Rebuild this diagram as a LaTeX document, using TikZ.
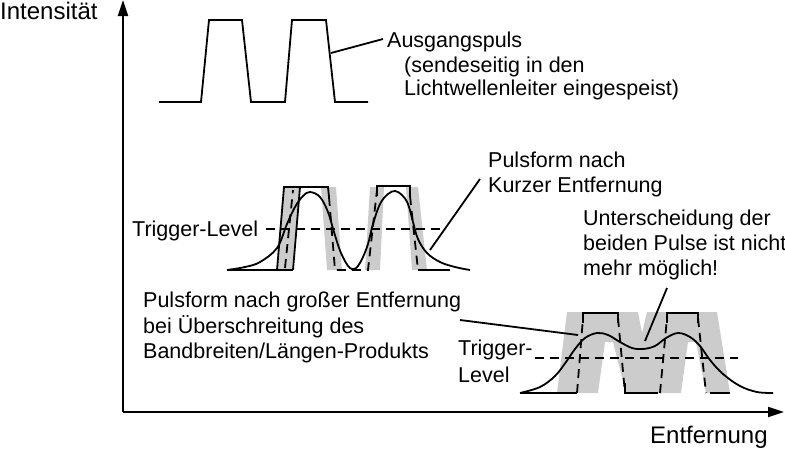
\documentclass[tikz,border=0pt]{standalone}
\usepackage{fontspec}
\setmainfont{Liberation Sans}
\usetikzlibrary{arrows.meta}
\definecolor{band}{gray}{0.8}
\tikzset{
  lbl/.style={inner sep=0pt,anchor=base west,font=\fontsize{21.5}{25}\selectfont},
  axlbl/.style={inner sep=0pt,anchor=base west,font=\fontsize{24}{28}\selectfont},
  ln/.style={line width=1.8pt,line join=miter},
  dsh/.style={line width=1.8pt,dash pattern=on 9pt off 6pt},
  axis/.style={line width=2.2pt,-{Triangle[length=16pt,width=10pt]}},
  crv/.style={line width=1.8pt,smooth,tension=0.6},
}
\begin{document}
\begin{tikzpicture}[x=1pt,y=-1pt]
\useasboundingbox (0,0) rectangle (785,448);

% axes
\coordinate (O) at (123,412);
\coordinate (ytip) at (123,0);
\coordinate (xtip) at (784,412);
\draw[axis] (O) -- (ytip);
\draw[axis] (O) -- (xtip);
\node[axlbl] (ylab) at (0,19) {Intensität};
\node[axlbl] (xlab) at (650,443) {Entfernung};

% ---------- top: original pulse
\draw[ln] (159,102) -- (201,102) -- (209,20) -- (242,20) -- (251,102) -- (285,102)
          -- (292,20) -- (326,20) -- (335,102) -- (368,102);
\node[lbl] (aus1) at (387,47) {Ausgangspuls};
\node[lbl] (aus2) at (404,72) {(sendeseitig in den};
\node[lbl] (aus3) at (404,95) {Lichtwellenleiter eingespeist)};
\coordinate (ausA) at (331,53);
\coordinate (ausB) at (383,39);
\draw[ln] (ausA) -- (ausB);

% ---------- middle: short distance
\fill[band] (277,270) -- (284,187) -- (300,187) -- (293,270) -- cycle;
\fill[band] (321,187) -- (336,187) -- (342,270) -- (327,270) -- cycle;
\fill[band] (370,187) -- (384,187) -- (380,270) -- (365,270) -- cycle;
\fill[band] (406,187) -- (418,187) -- (427,270) -- (412,270) -- cycle;

\draw[dsh] (266,229) -- (445,229);
\draw[dsh] (285,268) -- (293,190);
\draw[dsh] (329,197) -- (335,270) -- (368,270) -- (377,190);
\draw[dsh] (410,196) -- (418,270);

\draw[ln] (228,270) -- (293,270);
\draw[ln] (277,270) -- (284,187) -- (328,187) -- (329,197);
\draw[ln] (293,270) -- (300,187);
\draw[ln] (377,196) -- (377,186) -- (410,186) -- (410,196);
\draw[ln] (418,270) -- (450,270);

\draw[crv] plot coordinates {(227,270) (245,267) (260,262) (277,248) (287,224) (295,207)
  (303,196) (310,192) (320,197) (328,212) (334,232) (341,253) (350,268) (358,266)
  (367,247) (373,224) (380,204) (388,194) (395,191) (402,195) (408,204) (413,222)
  (418,239) (427,253) (440,262) (455,267) (470,270)};

\node[lbl] (trig1) at (132,236) {Trigger-Level};

\node[lbl] (kurz1) at (488,167) {Pulsform nach};
\node[lbl] (kurz2) at (488,192) {Kurzer Entfernung};
\coordinate (kurzA) at (430,250);
\coordinate (kurzB) at (480,179);
\draw[ln] (kurzA) -- (kurzB);

% ---------- bottom: long distance
\fill[band] (557,393) -- (567,312) -- (638,312) -- (642,333) -- (647,312) -- (717,312)
  -- (730,393) -- (706,393) -- (696,342) -- (688,342) -- (681,393) -- (626,393)
  -- (613,342) -- (605,342) -- (598,393) -- cycle;

\draw[dsh] (535,358) -- (738,358);
\draw[dsh] (577,393) -- (583,318);
\draw[dsh] (618,318) -- (625,393);
\draw[dsh] (660,393) -- (667,318);
\draw[dsh] (698,318) -- (706,393);

\draw[ln] (520,393) -- (577,393);
\draw[ln] (583,323) -- (583,313) -- (618,313) -- (618,323);
\draw[ln] (625,383) -- (625,393) -- (658,393);
\draw[ln] (667,323) -- (667,313) -- (698,313) -- (698,323);
\draw[ln] (710,393) -- (730,393);

\draw[crv] plot coordinates {(520,393) (540,387) (555,376) (566,362) (575,349) (585,338)
  (597,333) (608,335) (620,342) (632,348) (643,349) (655,346) (666,338) (678,333)
  (690,337) (700,346) (710,360) (723,374) (740,386) (757,392) (773,393)};

\node[lbl] (trig2a) at (458,355) {Trigger-};
\node[lbl] (trig2b) at (458,382) {Level};

\node[lbl] (gross1) at (143,307) {Pulsform nach großer Entfernung};
\node[lbl] (gross2) at (143,333) {bei Überschreitung des};
\node[lbl] (gross3) at (143,358) {Bandbreiten/Längen-Produkts};
\coordinate (grossA) at (460,320);
\coordinate (grossB) at (578,335);
\draw[ln] (grossA) -- (grossB);

\node[lbl] (unt1) at (583,225) {Unterscheidung der};
\node[lbl] (unt2) at (583,250) {beiden Pulse ist nicht};
\node[lbl] (unt3) at (583,275) {mehr möglich!};
\coordinate (untA) at (667,288);
\coordinate (untB) at (645,341);
\draw[ln] (untA) -- (untB);
\end{tikzpicture}
\end{document}
